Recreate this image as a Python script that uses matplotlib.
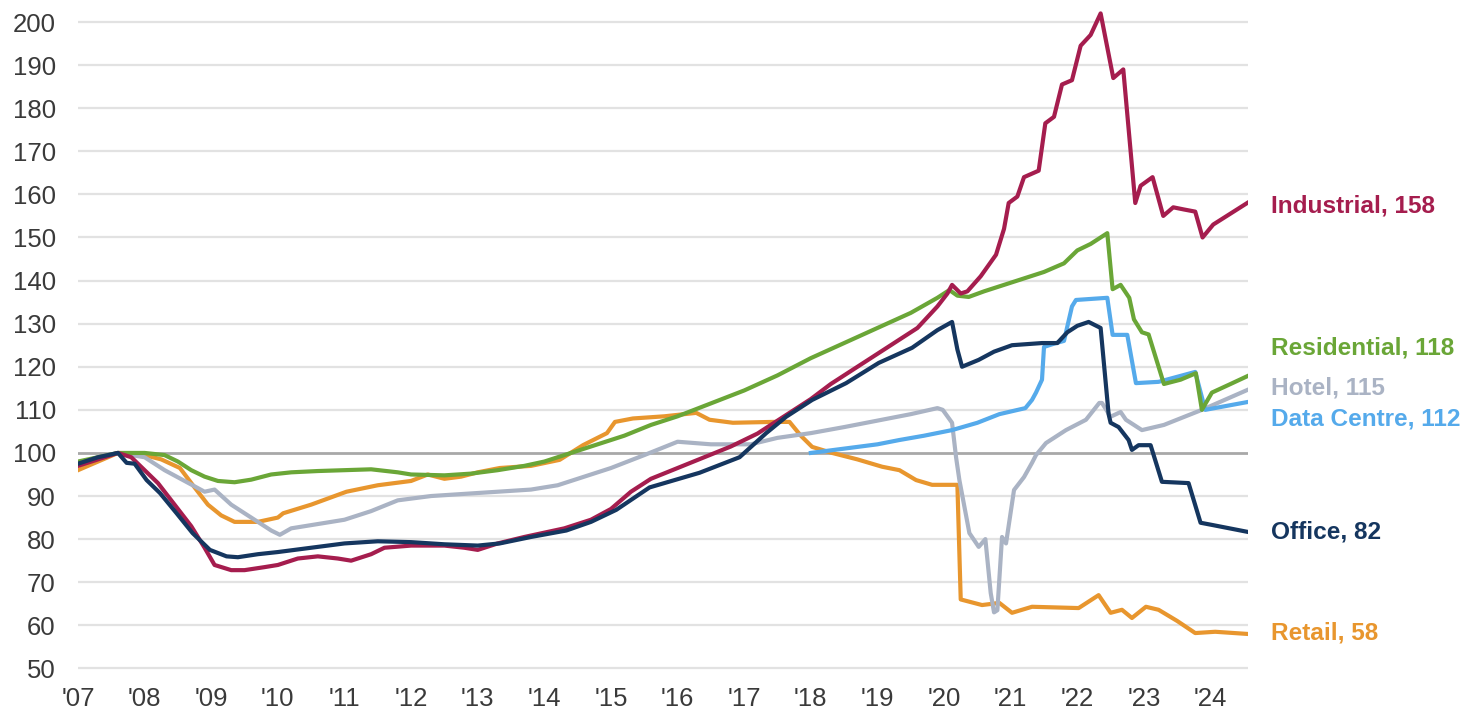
import matplotlib.pyplot as plt

plt.rcParams['font.family'] = ['Liberation Sans', 'DejaVu Sans']

# capital value index by sector, 2007 = 100 (decimal years)
industrial_t = [2007.0, 2007.3, 2007.6, 2007.8, 2008.0, 2008.2, 2008.35, 2008.5, 2008.7, 2008.9,
                2009.05, 2009.3, 2009.5, 2009.8, 2010.0, 2010.3, 2010.6, 2010.9, 2011.1, 2011.4,
                2011.6, 2012.0, 2012.5, 2012.8, 2013.0, 2013.3, 2013.7, 2014.0, 2014.3, 2014.7,
                2015.0, 2015.3, 2015.6, 2016.0, 2016.4, 2016.8, 2017.2, 2017.6, 2018.0, 2018.3,
                2018.6, 2019.0, 2019.3, 2019.6, 2019.9, 2020.05, 2020.12, 2020.25, 2020.35, 2020.55,
                2020.78, 2020.9, 2020.97, 2021.1, 2021.2, 2021.42, 2021.52, 2021.65, 2021.77, 2021.92,
                2022.05, 2022.2, 2022.35, 2022.54, 2022.69, 2022.87, 2022.95, 2023.13, 2023.29, 2023.44,
                2023.6, 2023.77, 2023.88, 2024.04, 2024.55]
industrial_v = [97, 98.5, 100, 99, 96, 93, 90, 87, 83, 78,
                74, 72.8, 72.8, 73.5, 74, 75.5, 76, 75.5, 75, 76.5,
                78, 78.5, 78.5, 78, 77.5, 79, 80.5, 81.5, 82.5, 84.5,
                87, 91, 94, 96.5, 99, 101.5, 104.5, 108.5, 112.5, 116,
                119, 123, 126, 129, 134, 137, 139, 137, 137.5, 141,
                146, 152, 158, 159.5, 164, 165.5, 176.5, 178, 185.5, 186.5,
                194.5, 197, 202, 187, 189, 158, 162, 164, 155, 157,
                156.5, 156, 150, 153, 158]

residential_t = [2007.0, 2007.3, 2007.6, 2008.0, 2008.3, 2008.5, 2008.7, 2008.9, 2009.1, 2009.35,
                 2009.6, 2009.9, 2010.2, 2010.6, 2011.0, 2011.4, 2011.8, 2012.0, 2012.5, 2012.9,
                 2013.3, 2013.7, 2014.0, 2014.4, 2014.8, 2015.2, 2015.6, 2016.0, 2016.5, 2017.0,
                 2017.5, 2018.0, 2018.5, 2019.0, 2019.5, 2019.9, 2020.08, 2020.2, 2020.37, 2020.6,
                 2021.0, 2021.5, 2021.8, 2022.0, 2022.2, 2022.45, 2022.53, 2022.65, 2022.78, 2022.85,
                 2022.97, 2023.07, 2023.2, 2023.3, 2023.55, 2023.78, 2023.87, 2024.02, 2024.3, 2024.55]
residential_v = [98, 99, 100, 100, 99.5, 98, 96, 94.5, 93.5, 93.2,
                 93.8, 95, 95.5, 95.8, 96, 96.2, 95.5, 95, 94.8, 95.2,
                 96, 97, 98, 100, 102, 104, 106.5, 108.5, 111.5, 114.5,
                 118, 122, 125.5, 129, 132.5, 136, 137.8, 136.5, 136.2, 137.5,
                 139.5, 142, 144, 147, 148.5, 151, 138, 139, 136, 131,
                 128, 127.5, 121, 116, 117, 118.5, 110, 114, 116, 117.8]

hotel_t = [2007.0, 2007.3, 2007.6, 2008.0, 2008.3, 2008.6, 2008.9, 2009.05, 2009.3, 2009.6,
           2009.9, 2010.03, 2010.2, 2010.6, 2011.0, 2011.4, 2011.8, 2012.3, 2012.8, 2013.3,
           2013.8, 2014.2, 2014.6, 2015.0, 2015.5, 2016.0, 2016.5, 2017.1, 2017.5, 2018.0,
           2018.5, 2019.0, 2019.5, 2019.9, 2019.98, 2020.12, 2020.18, 2020.23, 2020.38, 2020.52,
           2020.62, 2020.7, 2020.75, 2020.8, 2020.87, 2020.93, 2021.05, 2021.2, 2021.32, 2021.38,
           2021.53, 2021.83, 2022.13, 2022.33, 2022.37, 2022.5, 2022.65, 2022.73, 2022.97, 2023.3,
           2023.87, 2024.55]
hotel_v = [97.5, 99, 100, 99, 96, 93.5, 91, 91.5, 88, 85,
           82, 81, 82.5, 83.5, 84.5, 86.5, 89, 90, 90.5, 91,
           91.5, 92.5, 94.5, 96.5, 99.5, 102.6, 102, 102, 103.5, 104.6,
           106, 107.5, 109, 110.4, 110, 107, 99, 93.7, 81.4, 78.2,
           80, 67.5, 63, 63.5, 80.5, 79, 91.4, 94.4, 97.7, 99.5,
           102.3, 105.3, 107.7, 111.6, 111.6, 108.4, 109.5, 107.7, 105.3, 106.5,
           110, 114.6]

datacentre_t = [2018.0, 2018.5, 2019.0, 2019.33, 2019.7, 2020.12, 2020.5, 2020.83, 2021.22, 2021.32,
                2021.38, 2021.47, 2021.5, 2021.68, 2021.8, 2021.92, 2021.98, 2022.45, 2022.53, 2022.75,
                2022.88, 2023.22, 2023.77, 2023.92, 2024.55]
datacentre_v = [100, 101, 102, 103, 104, 105.3, 107, 109, 110.4, 112.3,
                114, 117, 124.6, 125.5, 126, 134, 135.5, 136, 127.4, 127.4,
                116.2, 116.5, 118.8, 110, 111.8]

office_t = [2007.0, 2007.3, 2007.6, 2007.73, 2007.85, 2008.03, 2008.23, 2008.48, 2008.72, 2008.98,
            2009.23, 2009.4, 2009.7, 2010.0, 2010.5, 2011.0, 2011.5, 2012.0, 2012.5, 2013.0,
            2013.33, 2013.8, 2014.33, 2014.7, 2015.08, 2015.58, 2016.33, 2016.93, 2017.33, 2017.63,
            2018.02, 2018.53, 2019.02, 2019.52, 2019.9, 2020.12, 2020.2, 2020.27, 2020.52, 2020.75,
            2021.02, 2021.47, 2021.7, 2021.85, 2022.0, 2022.17, 2022.35, 2022.47, 2022.5, 2022.62,
            2022.77, 2022.82, 2022.92, 2023.1, 2023.27, 2023.67, 2023.85, 2024.02, 2024.55]
office_v = [97.5, 99, 100, 97.7, 97.5, 93.7, 90.7, 86, 81.4, 77.5,
            76, 75.8, 76.5, 77, 78, 79, 79.5, 79.3, 78.8, 78.5,
            79, 80.5, 82, 84, 86.8, 92, 95.4, 99, 104.6, 108.4,
            112.3, 116.2, 120.9, 124.4, 128.5, 130.4, 124, 120, 121.6, 123.5,
            125, 125.5, 125.5, 128, 129.5, 130.4, 129, 109, 107, 106,
            103, 100.7, 101.8, 101.8, 93.3, 93, 83.8, 83.3, 81.7]

retail_t = [2007.0, 2007.3, 2007.6, 2008.0, 2008.25, 2008.53, 2008.75, 2008.95, 2009.15, 2009.35,
            2009.7, 2010.0, 2010.08, 2010.5, 2011.03, 2011.5, 2012.0, 2012.25, 2012.5, 2012.75,
            2013.0, 2013.33, 2013.8, 2014.23, 2014.58, 2014.94, 2015.06, 2015.33, 2015.8, 2016.28,
            2016.48, 2016.83, 2017.43, 2017.68, 2017.85, 2018.02, 2018.32, 2018.7, 2019.07, 2019.33,
            2019.58, 2019.82, 2020.2, 2020.25, 2020.57, 2020.83, 2021.02, 2021.32, 2022.02, 2022.32,
            2022.5, 2022.67, 2022.82, 2023.03, 2023.22, 2023.5, 2023.77, 2024.07, 2024.55]
retail_v = [96, 98, 100, 99.5, 98.5, 96.5, 92, 88, 85.5, 84,
            84, 85, 86, 88, 91, 92.5, 93.5, 95, 94, 94.5,
            95.5, 96.5, 97, 98.4, 101.8, 104.6, 107.2, 108, 108.5, 109.3,
            107.7, 107, 107.2, 107.2, 104, 101.4, 100, 98.5, 96.8, 96,
            93.7, 92.6, 92.6, 66, 64.7, 65.2, 62.9, 64.3, 64, 67,
            62.9, 63.6, 61.7, 64.3, 63.6, 61, 58.2, 58.5, 58]

# end labels and the height they sit at
label_names = ['Industrial, 158', 'Residential, 118', 'Hotel, 115',
               'Data Centre, 112', 'Office, 82', 'Retail, 58']
label_y = [157.2, 124.4, 115.1, 107.9, 81.7, 58.1]

year_ticks = list(range(2007, 2025))
year_labels = ["'%02d" % (y % 100) for y in year_ticks]

colors = {
    'industrial': '#A51D4E',
    'residential': '#6AA637',
    'hotel': '#AAB3C4',
    'datacentre': '#55AAEB',
    'office': '#15365F',
    'retail': '#E8962E',
}

fig = plt.figure(figsize=(14.66, 7.14), dpi=100)
ax = fig.add_axes([0.0532, 0.0518, 0.798, 0.9415])

ax.set_xlim(2007.0, 2024.56)
ax.set_ylim(48, 204)

for v in range(50, 201, 10):
    if v == 100:
        ax.axhline(v, color='#A8A8A8', lw=2.0, zorder=1)
    else:
        ax.axhline(v, color='#E2E2E2', lw=1.6, zorder=0)

lw = 3.0
ax.plot(retail_t, retail_v, color=colors['retail'], lw=lw, zorder=2)
ax.plot(hotel_t, hotel_v, color=colors['hotel'], lw=lw, zorder=3)
ax.plot(datacentre_t, datacentre_v, color=colors['datacentre'], lw=lw, zorder=4)
ax.plot(residential_t, residential_v, color=colors['residential'], lw=lw, zorder=5)
ax.plot(industrial_t, industrial_v, color=colors['industrial'], lw=lw, zorder=6)
ax.plot(office_t, office_v, color=colors['office'], lw=lw, zorder=7)

label_colors = [colors['industrial'], colors['residential'], colors['hotel'],
                colors['datacentre'], colors['office'], colors['retail']]
for name, y, c in zip(label_names, label_y, label_colors):
    ax.text(2024.9, y, name, color=c, fontsize=17.6, fontweight='bold',
            va='center', ha='left', clip_on=False)

ax.set_yticks(range(50, 201, 10))
ax.set_xticks(year_ticks)
ax.set_xticklabels(year_labels)
ax.tick_params(axis='both', length=0, labelsize=18.5, labelcolor='#3A3A3A')
ax.tick_params(axis='y', pad=16)
ax.tick_params(axis='x', pad=7)
for s in ax.spines.values():
    s.set_visible(False)

fig.savefig('out.png', dpi=100)
